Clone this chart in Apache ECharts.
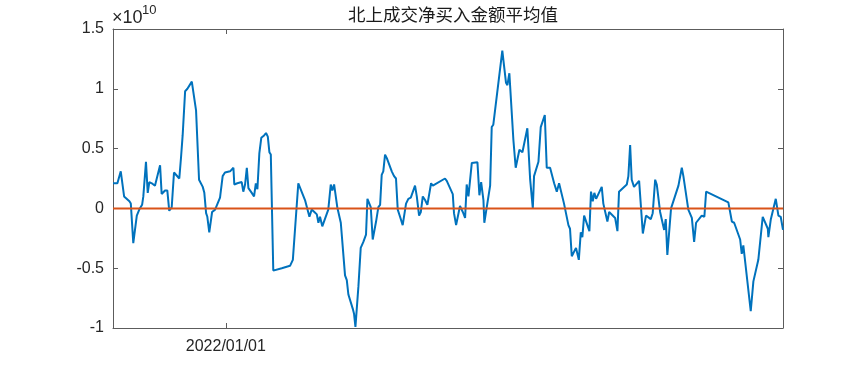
<!DOCTYPE html>
<html>
<head>
<meta charset="utf-8">
<script src="https://cdn.jsdelivr.net/npm/echarts@6/dist/echarts.min.js"></script>
<style>html,body{margin:0;padding:0;background:#fff}#c{width:865px;height:371px}</style>
</head>
<body>
<div id="c"></div>
<script>
// days relative to 2022-01-01
const days = [-64,-61.5,-59.6,-57.7,-54.7,-53.9,-52.5,-50.5,-49.1,-47.5,-46.8,-45.3,-44.3,-43.4,-42.0,-40.2,-39.2,-37.3,-36.4,-34.5,-33.2,-32.1,-30.7,-29.4,-26.4,-25.4,-24.5,-23.1,-21.8,-19.3,-18.4,-16.9,-15.2,-13.1,-12.2,-11.2,-10.5,-9.4,-7.8,-6.1,-5.2,-3.3,-1.8,-0.5,2.4,3.4,4.3,4.8,6.5,9.0,9.9,10.9,11.9,12.8,14.7,16.0,17.0,17.9,19.0,20.1,21.7,22.8,23.8,24.7,25.5,26.9,31.7,36.4,38.0,38.9,41.1,44.9,47.4,48.7,50.2,51.6,52.5,53.4,54.7,58.1,59.5,60.4,61.4,63.2,65.2,67.6,68.6,69.5,72.0,72.7,73.5,75.2,76.5,78.0,79.5,80.3,81.4,82.2,83.3,85.2,86.5,87.5,88.4,89.3,90.3,91.3,94.1,95.4,96.5,97.5,98.8,100.3,102.2,103.5,104.9,107.3,108.3,109.6,110.6,111.7,113.0,114.3,115.4,116.4,117.4,118.3,124.3,125.3,128.7,129.4,130.6,131.5,132.8,134.4,135.7,136.6,137.6,139.5,140.4,142.7,143.8,144.8,146.1,146.6,148.3,149.9,150.8,151.7,156.8,158.9,159.7,160.8,163.1,164.4,165.0,166.5,167.3,168.2,171.0,172.6,174.1,174.8,177.3,178.6,180.9,182.0,183.9,185.0,186.2,187.7,189.0,191.8,194.3,195.2,196.2,198.6,200.2,201.3,202.2,203.2,206.2,207.1,208.1,209.0,210.0,213.2,214.1,215.1,216.4,217.4,220.8,222.1,223.0,227.4,228.3,229.3,230.2,231.5,234.4,236.5,238.3,241.0,242.1,243.5,244.4,246.3,248.6,249.5,250.4,251.4,252.5,256.7,258.6,259.5,262.3,264.3,265.6,266.7,269.9,271.4,272.4,285.0,286.0,287.0,288.3,291.7,292.6,293.5,297.7,299.2,302.0,304.5,307.4,307.7,309.1,311.9,313.4,314.7,316];
// net buy average, unit 1e10
const values = [0.21,0.21,0.31,0.10,0.06,0.04,-0.29,-0.06,-0.01,0.03,0.10,0.39,0.13,0.22,0.21,0.19,0.20,0.36,0.12,0.15,0.15,-0.02,0.01,0.30,0.25,0.43,0.61,0.98,1.00,1.06,1.05,0.82,0.24,0.18,0.13,-0.04,-0.07,-0.20,-0.03,-0.01,0.00,0.09,0.27,0.30,0.31,0.31,0.34,0.20,0.21,0.22,0.14,0.20,0.34,0.17,0.13,0.10,0.21,0.16,0.46,0.59,0.61,0.63,0.60,0.47,0.45,-0.52,-0.50,-0.48,-0.43,-0.43,0.21,0.07,-0.07,-0.01,-0.03,-0.05,-0.12,-0.07,-0.15,-0.01,0.20,0.15,0.20,0.01,-0.12,-0.56,-0.60,-0.72,-0.84,-0.88,-0.99,-0.65,-0.33,-0.28,-0.22,0.08,0.08,0.01,-0.26,-0.11,0.01,0.03,0.28,0.31,0.45,0.42,0.31,0.27,0.25,-0.01,-0.07,-0.14,0.04,0.08,0.09,0.19,0.10,-0.06,-0.03,0.10,0.07,0.03,0.04,0.21,0.19,0.20,0.25,0.23,0.12,-0.04,-0.14,-0.14,0.02,-0.03,-0.08,0.20,0.10,0.38,0.39,0.385,0.11,0.22,0.07,-0.12,0.04,0.19,0.68,0.70,1.32,1.05,1.03,1.13,0.57,0.34,0.34,0.49,0.50,0.47,0.67,0.24,0.00,0.27,0.39,0.68,0.78,0.34,0.34,0.34,0.21,0.14,0.21,0.04,-0.14,-0.17,-0.40,-0.33,-0.43,-0.20,-0.24,-0.06,-0.19,0.14,0.06,0.13,0.08,0.18,0.04,0.05,-0.11,-0.03,-0.08,-0.19,0.14,0.20,0.27,0.53,0.24,0.18,0.23,-0.21,-0.06,-0.09,-0.04,0.24,0.20,-0.03,-0.18,-0.09,-0.39,-0.38,0.00,0.19,0.34,0.27,-0.01,-0.08,-0.28,-0.12,-0.06,-0.07,0.14,0.05,0.04,-0.11,-0.12,-0.26,-0.38,-0.31,-0.86,-0.61,-0.43,-0.07,-0.17,-0.24,-0.09,0.08,-0.06,-0.07,-0.18];
const zeroLineDays = [-64, 316];
const zeroLineValues = [0, 0];
const xTickDays = [0];
const xTickLabels = ['2022/01/01'];
const yTicks = [-1, -0.5, 0, 0.5, 1, 1.5];
const titleText = '北上成交净买入金额平均值';
const exponentText = '×10';
const exponentPower = '10';

const axisColor = '#5c5c5c';
const textColor = '#262626';
const chart = echarts.init(document.getElementById('c'));
const lineData = days.map((d, i) => [d, values[i]]);
const zeroData = zeroLineDays.map((d, i) => [d, zeroLineValues[i]]);
const xBase = {
  type: 'value', min: -64, max: 316,
  axisLine: { show: true, onZero: false, lineStyle: { color: axisColor, width: 1 } },
  axisTick: { show: true, inside: true, length: 5, customValues: xTickDays, lineStyle: { color: axisColor } },
  splitLine: { show: false }
};
const yBase = {
  type: 'value', min: -1, max: 1.5, interval: 0.5,
  axisLine: { show: true, onZero: false, lineStyle: { color: axisColor, width: 1 } },
  axisTick: { show: true, inside: true, length: 5, lineStyle: { color: axisColor } },
  splitLine: { show: false }
};
chart.setOption({
  animation: false,
  backgroundColor: '#fff',
  title: {
    text: titleText, left: 448, top: 1, textAlign: 'center',
    textStyle: { fontFamily: 'Noto Sans CJK SC', fontSize: 17.5, fontWeight: 'normal', color: '#1a1a1a' }
  },
  graphic: [
    {
      type: 'text', left: 112, top: 9,
      style: { text: exponentText, font: '18px "Liberation Sans"', fill: textColor }
    },
    {
      type: 'text', left: 142, top: 4,
      style: { text: exponentPower, font: '13px "Liberation Sans"', fill: textColor }
    }
  ],
  grid: { left: 113, right: 82, top: 29, bottom: 43, containLabel: false },
  xAxis: [
    Object.assign({}, xBase, {
      position: 'bottom',
      axisLabel: {
        show: true, customValues: xTickDays, margin: 11,
        formatter: v => xTickLabels[xTickDays.indexOf(v)] || '',
        color: textColor, fontFamily: 'Liberation Sans', fontSize: 16
      }
    }),
    Object.assign({}, xBase, { position: 'top', axisLabel: { show: false } })
  ],
  yAxis: [
    Object.assign({}, yBase, {
      position: 'left',
      axisLabel: {
        show: true, margin: 9, color: textColor, fontFamily: 'Liberation Sans', fontSize: 16,
        formatter: v => String(yTicks[yTicks.indexOf(v)])
      }
    }),
    Object.assign({}, yBase, { position: 'right', axisLabel: { show: false } })
  ],
  series: [
    {
      type: 'line', data: lineData, showSymbol: false, symbol: 'none',
      lineStyle: { color: '#0072BD', width: 2 }, z: 2
    },
    {
      type: 'line', data: zeroData, showSymbol: false, symbol: 'none',
      lineStyle: { color: '#D95319', width: 2 }, z: 3
    }
  ]
});
</script>
</body>
</html>
